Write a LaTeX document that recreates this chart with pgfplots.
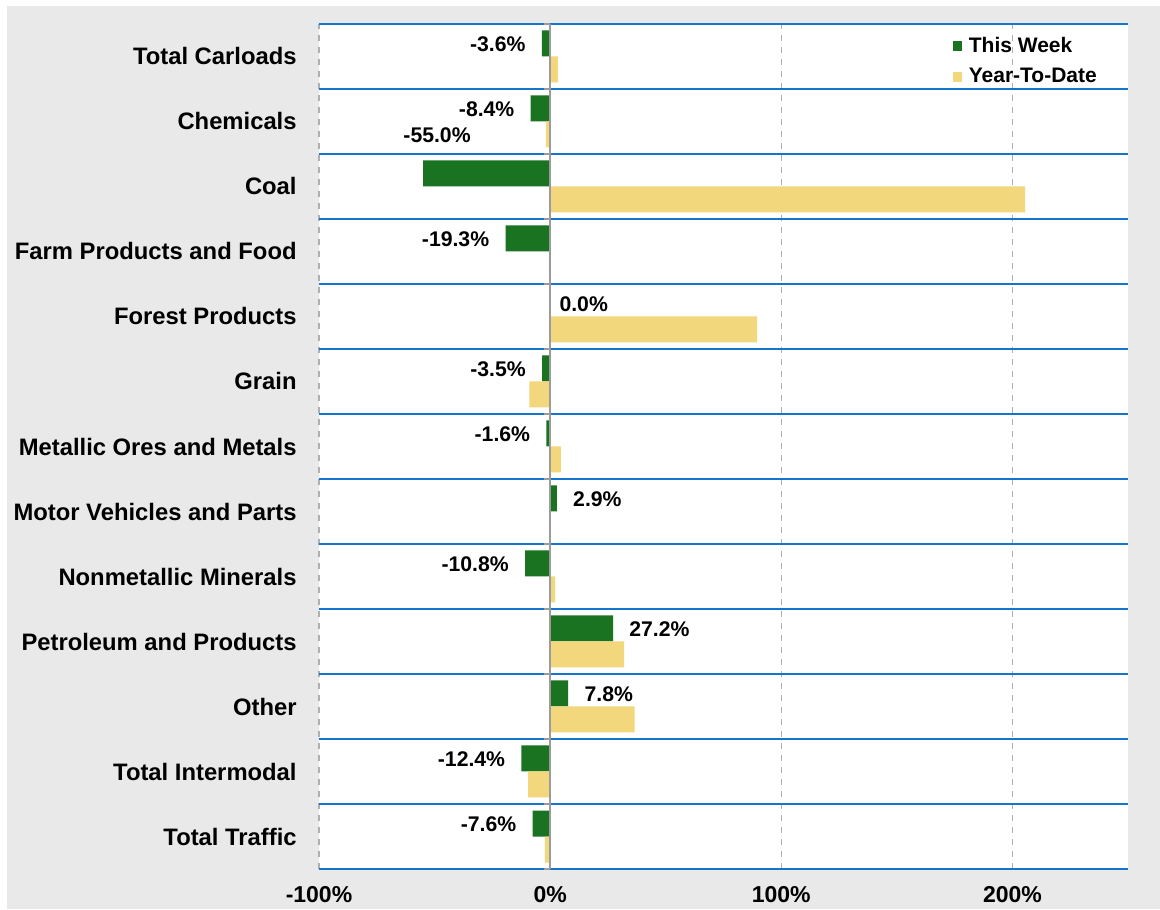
\documentclass[border=0pt]{standalone}
\usepackage{pgfplots}
\usepackage{pgfplotstable}
\pgfplotsset{compat=1.18}
\usepackage{fontspec}
\setmainfont{Liberation Sans}
\definecolor{gr}{RGB}{26,115,33}
\definecolor{yl}{RGB}{242,215,124}
\definecolor{sepc}{RGB}{20,117,204}
\definecolor{bgc}{RGB}{233,233,233}
\definecolor{gridc}{RGB}{175,175,175}
\definecolor{zeroc}{RGB}{155,155,155}

% y = position (12 = top row)
\pgfplotstableread{
y   week   ytd
12  -3.6   3.3
11  -8.4   -1.9
10  -55.0  205.5
9   -19.3  -0.5
8   0.0    89.5
7   -3.5   -9.0
6   -1.6   4.6
5   2.9    0.2
4   -10.8  2.2
3   27.2   32.0
2   7.8    36.5
1   -12.4  -9.5
0   -7.6   -2.3
}\datatable

\begin{document}
\begin{tikzpicture}
\fill[white] (-159.5pt,-20pt) rectangle (420.5pt,434.5pt);
\fill[bgc] (-156pt,-20pt) rectangle (420.5pt,431.5pt);
\begin{axis}[
  at={(0pt,0pt)}, anchor=south west,
  scale only axis, width=404.5pt, height=422.5pt,
  xbar, bar width=0.4,
  xmin=-100, xmax=250, ymin=-0.5, ymax=12.5,
  axis background/.style={fill=white},
  axis line style={draw=none},
  xtick={-100,0,100,200},
  xticklabels={-100\%,0\%,100\%,200\%},
  xticklabel style={font=\fontsize{11.5}{12}\selectfont\bfseries, inner sep=0pt, yshift=-8.5pt},
  ytick={0,...,12},
  yticklabels={Total Traffic, Total Intermodal, Other, Petroleum and Products, Nonmetallic Minerals, Motor Vehicles and Parts, Metallic Ores and Metals, Grain, Forest Products, Farm Products and Food, Coal, Chemicals, Total Carloads},
  yticklabel style={font=\fontsize{11.9}{13}\selectfont\bfseries, inner sep=0pt, anchor=east, xshift=-11pt},
  major tick length=0pt,
  xmajorgrids, grid style={gridc, dashed, line width=0.6pt},
  extra y ticks={-0.5,0.5,1.5,2.5,3.5,4.5,5.5,6.5,7.5,8.5,9.5,10.5,11.5,12.5},
  extra y tick labels={},
  extra y tick style={ymajorgrids=true, major tick length=0pt, grid style={sepc, solid, line width=1pt}},
  legend style={at={(0.783,0.99)}, anchor=north west, draw=none, fill=none,
    font=\fontsize{10.5}{12}\selectfont\bfseries, cells={anchor=west}, row sep=2.5pt, inner sep=0pt,
    /tikz/every odd column/.style={column sep=1.2pt}},
  legend image code/.code={\fill[#1] (0pt,-2.4pt) rectangle (4.8pt,2.4pt);},
  clip=false,
]
\addplot[fill=gr, draw=none, bar shift=0.2,
  point meta=x,
  nodes near coords={\pgfmathprintnumber[fixed,fixed zerofill,precision=1,assume math mode=true]{\pgfplotspointmeta}\%},
  every node near coord/.append style={font=\fontsize{10.6}{12}\selectfont\bfseries, text=black, inner xsep=8pt, inner ysep=0pt, yshift=-0.5pt},
  coordinate style/.condition={\coordindex==2}{xshift=32pt,yshift=19.5pt},
  coordinate style/.condition={\coordindex==4}{xshift=-3.5pt},
] table[x=week, y=y] {\datatable};
\addlegendentry{This Week}
\addplot[fill=yl, draw=none, bar shift=-0.2] table[x=ytd, y=y] {\datatable};
\addlegendentry{Year-To-Date}
\draw[zeroc, line width=1.1pt] (axis cs:0,-0.5) -- (axis cs:0,12.5);
\pgfplotsinvokeforeach{-0.5,0.5,1.5,2.5,3.5,4.5,5.5,6.5,7.5,8.5,9.5,10.5,11.5,12.5}{
  \draw[zeroc, line width=1pt] (axis cs:0,#1) -- ++(-3pt,0pt);
}
\end{axis}
\end{tikzpicture}
\end{document}
